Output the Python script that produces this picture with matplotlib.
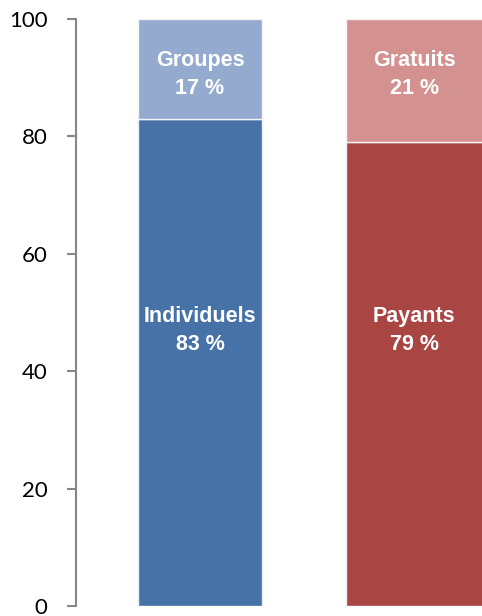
import numpy as np
import matplotlib.pyplot as plt

# stacked shares (%) per bar
bars = ["Visiteurs", "Entrées"]
bottom_vals = [83, 79]
top_vals = [17, 21]
bottom_names = ["Individuels", "Payants"]
top_names = ["Groupes", "Gratuits"]

bottom_colors = ["#4672A7", "#A94644"]
top_colors = ["#95AACF", "#D39190"]

yticks = [0, 20, 40, 60, 80, 100]

fig = plt.figure(figsize=(4.82, 6.16), dpi=100)
ax = fig.add_axes([76 / 482, 10 / 616, (482 - 76) / 482, 587 / 616])

x = np.arange(len(bars))
widths = np.array([0.6, 0.66])
lefts = x - 0.3
ax.bar(lefts, bottom_vals, width=widths, align="edge", color=bottom_colors,
       edgecolor="#E8EEF5", linewidth=1.0)
ax.bar(lefts, top_vals, bottom=bottom_vals, width=widths, align="edge", color=top_colors,
       edgecolor="#F4F4F8", linewidth=1.0)

lab_font = dict(family="Liberation Sans", fontweight="bold", fontsize=15.5, color="white",
                ha="center", va="center", linespacing=1.45)
centers = lefts + widths / 2
for i in range(len(bars)):
    ax.text(centers[i], 47, f"{bottom_names[i]}\n{bottom_vals[i]} %", **lab_font)
    ax.text(centers[i], 90.6, f"{top_names[i]}\n{top_vals[i]} %", **lab_font)

ax.set_xlim(-0.596, 1.356)
ax.set_ylim(0, 100)
ax.set_xticks([])
ax.set_yticks(yticks)
ax.set_yticklabels([str(v) for v in yticks], fontfamily="Lato", fontsize=16)

for s in ["top", "right", "bottom"]:
    ax.spines[s].set_visible(False)
ax.spines["left"].set_color("#878787")
ax.spines["left"].set_linewidth(1.5)
ax.tick_params(axis="y", length=6.5, width=1.5, color="#878787", pad=14)

fig.savefig("out.png", dpi=100)
